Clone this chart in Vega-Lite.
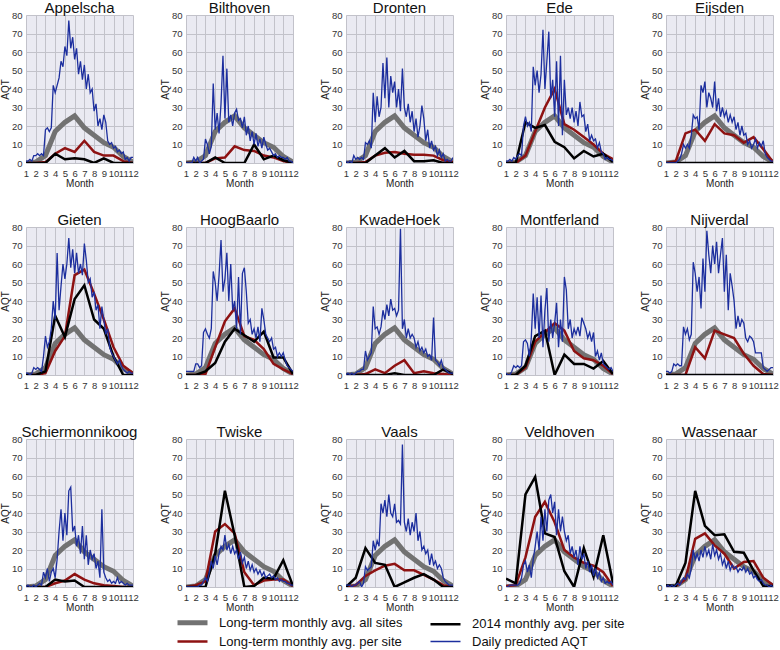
{
"$schema": "https://vega.github.io/schema/vega-lite/v6.json",
"background": "white",
"padding": {"left": 0, "top": 0, "right": 0, "bottom": 0},
"data": {"values": [
{"site":"Appelscha","m":1,"a":0,"r":0,"k":0},{"site":"Appelscha","m":2,"a":0.5,"r":0,"k":0},{"site":"Appelscha","m":3,"a":4,"r":0.5,"k":0},{"site":"Appelscha","m":4,"a":17,"r":5,"k":5},{"site":"Appelscha","m":5,"a":22,"r":8,"k":2},{"site":"Appelscha","m":6,"a":25.5,"r":6,"k":2.5},{"site":"Appelscha","m":7,"a":19,"r":12,"k":2},{"site":"Appelscha","m":8,"a":15,"r":6,"k":0},{"site":"Appelscha","m":9,"a":11,"r":4,"k":2.5},{"site":"Appelscha","m":10,"a":8.5,"r":4,"k":0},{"site":"Appelscha","m":11,"a":3.5,"r":1,"k":0},{"site":"Appelscha","m":12,"a":0.5,"r":0,"k":0},
{"site":"Bilthoven","m":1,"a":0,"r":0,"k":0},{"site":"Bilthoven","m":2,"a":0.5,"r":0,"k":0},{"site":"Bilthoven","m":3,"a":4,"r":0,"k":0},{"site":"Bilthoven","m":4,"a":17,"r":2.5,"k":3},{"site":"Bilthoven","m":5,"a":22,"r":3,"k":0},{"site":"Bilthoven","m":6,"a":25.5,"r":9,"k":0},{"site":"Bilthoven","m":7,"a":19,"r":7,"k":0},{"site":"Bilthoven","m":8,"a":15,"r":6.5,"k":10},{"site":"Bilthoven","m":9,"a":11,"r":4,"k":2},{"site":"Bilthoven","m":10,"a":8.5,"r":3,"k":4},{"site":"Bilthoven","m":11,"a":3.5,"r":1,"k":1.5},{"site":"Bilthoven","m":12,"a":0.5,"r":0,"k":0},
{"site":"Dronten","m":1,"a":0,"r":0,"k":0},{"site":"Dronten","m":2,"a":0.5,"r":0,"k":0},{"site":"Dronten","m":3,"a":4,"r":0.5,"k":0},{"site":"Dronten","m":4,"a":17,"r":4,"k":4},{"site":"Dronten","m":5,"a":22,"r":5.5,"k":8},{"site":"Dronten","m":6,"a":25.5,"r":6,"k":3},{"site":"Dronten","m":7,"a":19,"r":5,"k":6.5},{"site":"Dronten","m":8,"a":15,"r":4.5,"k":1},{"site":"Dronten","m":9,"a":11,"r":4.5,"k":1},{"site":"Dronten","m":10,"a":8.5,"r":4,"k":1.5},{"site":"Dronten","m":11,"a":3.5,"r":1.5,"k":0},{"site":"Dronten","m":12,"a":0.5,"r":0.5,"k":0},
{"site":"Ede","m":1,"a":0,"r":0,"k":0},{"site":"Ede","m":2,"a":0.5,"r":0,"k":0},{"site":"Ede","m":3,"a":4,"r":4,"k":22},{"site":"Ede","m":4,"a":17,"r":17,"k":19},{"site":"Ede","m":5,"a":22,"r":30,"k":20.5},{"site":"Ede","m":6,"a":25.5,"r":40,"k":11.5},{"site":"Ede","m":7,"a":19,"r":21,"k":8.5},{"site":"Ede","m":8,"a":15,"r":18,"k":2.5},{"site":"Ede","m":9,"a":11,"r":14,"k":6.5},{"site":"Ede","m":10,"a":8.5,"r":10,"k":3.5},{"site":"Ede","m":11,"a":3.5,"r":5,"k":5},{"site":"Ede","m":12,"a":0.5,"r":2,"k":0.5},
{"site":"Eijsden","m":1,"a":0,"r":0,"k":0},{"site":"Eijsden","m":2,"a":0.5,"r":1,"k":0},{"site":"Eijsden","m":3,"a":4,"r":16,"k":0},{"site":"Eijsden","m":4,"a":17,"r":18,"k":0},{"site":"Eijsden","m":5,"a":22,"r":12,"k":0},{"site":"Eijsden","m":6,"a":25.5,"r":21,"k":0},{"site":"Eijsden","m":7,"a":19,"r":16,"k":0},{"site":"Eijsden","m":8,"a":15,"r":15,"k":0},{"site":"Eijsden","m":9,"a":11,"r":11,"k":0},{"site":"Eijsden","m":10,"a":8.5,"r":14,"k":0},{"site":"Eijsden","m":11,"a":3.5,"r":7.5,"k":0},{"site":"Eijsden","m":12,"a":0.5,"r":0.5,"k":0},
{"site":"Gieten","m":1,"a":0,"r":0,"k":0},{"site":"Gieten","m":2,"a":0.5,"r":0,"k":0},{"site":"Gieten","m":3,"a":4,"r":1,"k":2},{"site":"Gieten","m":4,"a":17,"r":13,"k":32},{"site":"Gieten","m":5,"a":22,"r":21,"k":20.5},{"site":"Gieten","m":6,"a":25.5,"r":54,"k":41},{"site":"Gieten","m":7,"a":19,"r":57,"k":48.5},{"site":"Gieten","m":8,"a":15,"r":44,"k":30},{"site":"Gieten","m":9,"a":11,"r":30,"k":25},{"site":"Gieten","m":10,"a":8.5,"r":15,"k":10},{"site":"Gieten","m":11,"a":3.5,"r":5,"k":0},{"site":"Gieten","m":12,"a":0.5,"r":1,"k":0},
{"site":"HoogBaarlo","m":1,"a":0,"r":0,"k":0},{"site":"HoogBaarlo","m":2,"a":0.5,"r":0,"k":0},{"site":"HoogBaarlo","m":3,"a":4,"r":0.5,"k":2},{"site":"HoogBaarlo","m":4,"a":17,"r":15,"k":6.5},{"site":"HoogBaarlo","m":5,"a":22,"r":29,"k":18},{"site":"HoogBaarlo","m":6,"a":25.5,"r":36,"k":25},{"site":"HoogBaarlo","m":7,"a":19,"r":21,"k":21.5},{"site":"HoogBaarlo","m":8,"a":15,"r":19,"k":18},{"site":"HoogBaarlo","m":9,"a":11,"r":14,"k":23.5},{"site":"HoogBaarlo","m":10,"a":8.5,"r":6,"k":9.5},{"site":"HoogBaarlo","m":11,"a":3.5,"r":3,"k":9.5},{"site":"HoogBaarlo","m":12,"a":0.5,"r":0.5,"k":0.5},
{"site":"KwadeHoek","m":1,"a":0,"r":0,"k":0},{"site":"KwadeHoek","m":2,"a":0.5,"r":0,"k":0},{"site":"KwadeHoek","m":3,"a":4,"r":0.5,"k":0},{"site":"KwadeHoek","m":4,"a":17,"r":3,"k":0},{"site":"KwadeHoek","m":5,"a":22,"r":1,"k":0},{"site":"KwadeHoek","m":6,"a":25.5,"r":5,"k":1},{"site":"KwadeHoek","m":7,"a":19,"r":8,"k":0},{"site":"KwadeHoek","m":8,"a":15,"r":1,"k":0},{"site":"KwadeHoek","m":9,"a":11,"r":2,"k":0},{"site":"KwadeHoek","m":10,"a":8.5,"r":1,"k":0},{"site":"KwadeHoek","m":11,"a":3.5,"r":0.5,"k":3},{"site":"KwadeHoek","m":12,"a":0.5,"r":0,"k":0.5},
{"site":"Montferland","m":1,"a":0,"r":0,"k":0},{"site":"Montferland","m":2,"a":0.5,"r":0,"k":0},{"site":"Montferland","m":3,"a":4,"r":4,"k":5},{"site":"Montferland","m":4,"a":17,"r":18,"k":21},{"site":"Montferland","m":5,"a":22,"r":23,"k":24},{"site":"Montferland","m":6,"a":25.5,"r":28,"k":0},{"site":"Montferland","m":7,"a":19,"r":24,"k":11},{"site":"Montferland","m":8,"a":15,"r":13,"k":6},{"site":"Montferland","m":9,"a":11,"r":9,"k":6},{"site":"Montferland","m":10,"a":8.5,"r":8,"k":3.5},{"site":"Montferland","m":11,"a":3.5,"r":5,"k":7.5},{"site":"Montferland","m":12,"a":0.5,"r":0.5,"k":0.5},
{"site":"Nijverdal","m":1,"a":0,"r":0,"k":0},{"site":"Nijverdal","m":2,"a":0.5,"r":0,"k":0},{"site":"Nijverdal","m":3,"a":4,"r":0,"k":0},{"site":"Nijverdal","m":4,"a":17,"r":15,"k":0},{"site":"Nijverdal","m":5,"a":22,"r":9,"k":0},{"site":"Nijverdal","m":6,"a":25.5,"r":24,"k":0},{"site":"Nijverdal","m":7,"a":19,"r":22,"k":0},{"site":"Nijverdal","m":8,"a":15,"r":20,"k":0},{"site":"Nijverdal","m":9,"a":11,"r":11.5,"k":0},{"site":"Nijverdal","m":10,"a":8.5,"r":5,"k":0},{"site":"Nijverdal","m":11,"a":3.5,"r":0.5,"k":0},{"site":"Nijverdal","m":12,"a":0.5,"r":0,"k":0},
{"site":"Schiermonnikoog","m":1,"a":0,"r":0,"k":0},{"site":"Schiermonnikoog","m":2,"a":0.5,"r":0,"k":0},{"site":"Schiermonnikoog","m":3,"a":4,"r":0,"k":0},{"site":"Schiermonnikoog","m":4,"a":17,"r":2,"k":4},{"site":"Schiermonnikoog","m":5,"a":22,"r":3.5,"k":3},{"site":"Schiermonnikoog","m":6,"a":25.5,"r":7,"k":3.5},{"site":"Schiermonnikoog","m":7,"a":19,"r":4,"k":0},{"site":"Schiermonnikoog","m":8,"a":15,"r":2,"k":0},{"site":"Schiermonnikoog","m":9,"a":11,"r":1,"k":0},{"site":"Schiermonnikoog","m":10,"a":8.5,"r":0.5,"k":0},{"site":"Schiermonnikoog","m":11,"a":3.5,"r":0,"k":0},{"site":"Schiermonnikoog","m":12,"a":0.5,"r":0,"k":0},
{"site":"Twiske","m":1,"a":0,"r":0,"k":0},{"site":"Twiske","m":2,"a":0.5,"r":1,"k":0},{"site":"Twiske","m":3,"a":4,"r":3,"k":0},{"site":"Twiske","m":4,"a":17,"r":30,"k":18},{"site":"Twiske","m":5,"a":22,"r":34,"k":52},{"site":"Twiske","m":6,"a":25.5,"r":29,"k":28},{"site":"Twiske","m":7,"a":19,"r":8,"k":0},{"site":"Twiske","m":8,"a":15,"r":1,"k":0.5},{"site":"Twiske","m":9,"a":11,"r":3.5,"k":5},{"site":"Twiske","m":10,"a":8.5,"r":4,"k":4.5},{"site":"Twiske","m":11,"a":3.5,"r":4,"k":14.5},{"site":"Twiske","m":12,"a":0.5,"r":0.5,"k":0.5},
{"site":"Vaals","m":1,"a":0,"r":0,"k":0},{"site":"Vaals","m":2,"a":0.5,"r":1,"k":5},{"site":"Vaals","m":3,"a":4,"r":6,"k":21},{"site":"Vaals","m":4,"a":17,"r":9,"k":13},{"site":"Vaals","m":5,"a":22,"r":11.5,"k":12},{"site":"Vaals","m":6,"a":25.5,"r":12.5,"k":0},{"site":"Vaals","m":7,"a":19,"r":9,"k":2.5},{"site":"Vaals","m":8,"a":15,"r":9,"k":5},{"site":"Vaals","m":9,"a":11,"r":6.5,"k":7},{"site":"Vaals","m":10,"a":8.5,"r":4,"k":4},{"site":"Vaals","m":11,"a":3.5,"r":1,"k":0},{"site":"Vaals","m":12,"a":0.5,"r":0,"k":0},
{"site":"Veldhoven","m":1,"a":0,"r":0.5,"k":4.5},{"site":"Veldhoven","m":2,"a":0.5,"r":1,"k":2},{"site":"Veldhoven","m":3,"a":4,"r":16,"k":50},{"site":"Veldhoven","m":4,"a":17,"r":38,"k":59.5},{"site":"Veldhoven","m":5,"a":22,"r":46,"k":29},{"site":"Veldhoven","m":6,"a":25.5,"r":35,"k":27},{"site":"Veldhoven","m":7,"a":19,"r":20,"k":8.5},{"site":"Veldhoven","m":8,"a":15,"r":16,"k":0},{"site":"Veldhoven","m":9,"a":11,"r":13,"k":21},{"site":"Veldhoven","m":10,"a":8.5,"r":11.5,"k":5.5},{"site":"Veldhoven","m":11,"a":3.5,"r":8,"k":28},{"site":"Veldhoven","m":12,"a":0.5,"r":0.5,"k":2},
{"site":"Wassenaar","m":1,"a":0,"r":0,"k":1},{"site":"Wassenaar","m":2,"a":0.5,"r":0.5,"k":0.5},{"site":"Wassenaar","m":3,"a":4,"r":4,"k":13},{"site":"Wassenaar","m":4,"a":17,"r":26,"k":52},{"site":"Wassenaar","m":5,"a":22,"r":29,"k":33},{"site":"Wassenaar","m":6,"a":25.5,"r":22.5,"k":28},{"site":"Wassenaar","m":7,"a":19,"r":18,"k":28.5},{"site":"Wassenaar","m":8,"a":15,"r":10,"k":19},{"site":"Wassenaar","m":9,"a":11,"r":13.5,"k":18.5},{"site":"Wassenaar","m":10,"a":8.5,"r":14,"k":9},{"site":"Wassenaar","m":11,"a":3.5,"r":5,"k":0.5},{"site":"Wassenaar","m":12,"a":0.5,"r":1,"k":0.5},
{"site":"Appelscha","m":1,"d":1},{"site":"Appelscha","m":1.2,"d":1},{"site":"Appelscha","m":1.4,"d":2},{"site":"Appelscha","m":1.6,"d":1},{"site":"Appelscha","m":1.8,"d":4},{"site":"Appelscha","m":2,"d":4},{"site":"Appelscha","m":2.2,"d":5},{"site":"Appelscha","m":2.4,"d":4},{"site":"Appelscha","m":2.6,"d":5},{"site":"Appelscha","m":2.8,"d":4},{"site":"Appelscha","m":3,"d":18},{"site":"Appelscha","m":3.2,"d":19},{"site":"Appelscha","m":3.4,"d":17},{"site":"Appelscha","m":3.6,"d":19},{"site":"Appelscha","m":3.8,"d":42},{"site":"Appelscha","m":4,"d":38},{"site":"Appelscha","m":4.2,"d":42},{"site":"Appelscha","m":4.4,"d":46},{"site":"Appelscha","m":4.6,"d":55},{"site":"Appelscha","m":4.8,"d":52},{"site":"Appelscha","m":5,"d":63},{"site":"Appelscha","m":5.2,"d":58},{"site":"Appelscha","m":5.4,"d":77},{"site":"Appelscha","m":5.6,"d":62},{"site":"Appelscha","m":5.8,"d":68},{"site":"Appelscha","m":6,"d":56},{"site":"Appelscha","m":6.2,"d":62},{"site":"Appelscha","m":6.4,"d":48},{"site":"Appelscha","m":6.6,"d":55},{"site":"Appelscha","m":6.8,"d":45},{"site":"Appelscha","m":7,"d":53},{"site":"Appelscha","m":7.2,"d":40},{"site":"Appelscha","m":7.4,"d":48},{"site":"Appelscha","m":7.6,"d":38},{"site":"Appelscha","m":7.8,"d":40},{"site":"Appelscha","m":8,"d":28},{"site":"Appelscha","m":8.2,"d":32},{"site":"Appelscha","m":8.4,"d":20},{"site":"Appelscha","m":8.6,"d":24},{"site":"Appelscha","m":8.8,"d":18},{"site":"Appelscha","m":9,"d":26},{"site":"Appelscha","m":9.2,"d":22},{"site":"Appelscha","m":9.4,"d":12},{"site":"Appelscha","m":9.6,"d":10},{"site":"Appelscha","m":9.8,"d":11},{"site":"Appelscha","m":10,"d":8},{"site":"Appelscha","m":10.2,"d":9},{"site":"Appelscha","m":10.4,"d":6},{"site":"Appelscha","m":10.6,"d":7},{"site":"Appelscha","m":10.8,"d":5},{"site":"Appelscha","m":11,"d":6},{"site":"Appelscha","m":11.2,"d":2},{"site":"Appelscha","m":11.4,"d":3},{"site":"Appelscha","m":11.6,"d":1},{"site":"Appelscha","m":11.8,"d":3},{"site":"Appelscha","m":12,"d":3},
{"site":"Bilthoven","m":1,"d":0},{"site":"Bilthoven","m":1.2,"d":0},{"site":"Bilthoven","m":1.4,"d":0},{"site":"Bilthoven","m":1.6,"d":0},{"site":"Bilthoven","m":1.8,"d":3},{"site":"Bilthoven","m":2,"d":1},{"site":"Bilthoven","m":2.2,"d":3},{"site":"Bilthoven","m":2.4,"d":0},{"site":"Bilthoven","m":2.6,"d":1},{"site":"Bilthoven","m":2.8,"d":2},{"site":"Bilthoven","m":3,"d":13},{"site":"Bilthoven","m":3.2,"d":10},{"site":"Bilthoven","m":3.4,"d":5},{"site":"Bilthoven","m":3.6,"d":9},{"site":"Bilthoven","m":3.8,"d":43},{"site":"Bilthoven","m":4,"d":18},{"site":"Bilthoven","m":4.2,"d":27},{"site":"Bilthoven","m":4.4,"d":16},{"site":"Bilthoven","m":4.6,"d":32},{"site":"Bilthoven","m":4.8,"d":58},{"site":"Bilthoven","m":5,"d":24},{"site":"Bilthoven","m":5.2,"d":51},{"site":"Bilthoven","m":5.4,"d":22},{"site":"Bilthoven","m":5.6,"d":26},{"site":"Bilthoven","m":5.8,"d":20},{"site":"Bilthoven","m":6,"d":27},{"site":"Bilthoven","m":6.2,"d":29},{"site":"Bilthoven","m":6.4,"d":23},{"site":"Bilthoven","m":6.6,"d":24},{"site":"Bilthoven","m":6.8,"d":19},{"site":"Bilthoven","m":7,"d":25},{"site":"Bilthoven","m":7.2,"d":15},{"site":"Bilthoven","m":7.4,"d":20},{"site":"Bilthoven","m":7.6,"d":12},{"site":"Bilthoven","m":7.8,"d":17},{"site":"Bilthoven","m":8,"d":10},{"site":"Bilthoven","m":8.2,"d":16},{"site":"Bilthoven","m":8.4,"d":9},{"site":"Bilthoven","m":8.6,"d":13},{"site":"Bilthoven","m":8.8,"d":8},{"site":"Bilthoven","m":9,"d":14},{"site":"Bilthoven","m":9.2,"d":10},{"site":"Bilthoven","m":9.4,"d":7},{"site":"Bilthoven","m":9.6,"d":8},{"site":"Bilthoven","m":9.8,"d":6},{"site":"Bilthoven","m":10,"d":4},{"site":"Bilthoven","m":10.2,"d":5},{"site":"Bilthoven","m":10.4,"d":3},{"site":"Bilthoven","m":10.6,"d":4},{"site":"Bilthoven","m":10.8,"d":3},{"site":"Bilthoven","m":11,"d":3},{"site":"Bilthoven","m":11.2,"d":2},{"site":"Bilthoven","m":11.4,"d":3},{"site":"Bilthoven","m":11.6,"d":1},{"site":"Bilthoven","m":11.8,"d":1},{"site":"Bilthoven","m":12,"d":0},
{"site":"Dronten","m":1,"d":1},{"site":"Dronten","m":1.2,"d":0},{"site":"Dronten","m":1.4,"d":1},{"site":"Dronten","m":1.6,"d":0},{"site":"Dronten","m":1.8,"d":4},{"site":"Dronten","m":2,"d":2},{"site":"Dronten","m":2.2,"d":3},{"site":"Dronten","m":2.4,"d":2},{"site":"Dronten","m":2.6,"d":3},{"site":"Dronten","m":2.8,"d":2},{"site":"Dronten","m":3,"d":11},{"site":"Dronten","m":3.2,"d":10},{"site":"Dronten","m":3.4,"d":12},{"site":"Dronten","m":3.6,"d":8},{"site":"Dronten","m":3.8,"d":38},{"site":"Dronten","m":4,"d":22},{"site":"Dronten","m":4.2,"d":36},{"site":"Dronten","m":4.4,"d":25},{"site":"Dronten","m":4.6,"d":30},{"site":"Dronten","m":4.8,"d":54},{"site":"Dronten","m":5,"d":35},{"site":"Dronten","m":5.2,"d":57},{"site":"Dronten","m":5.4,"d":30},{"site":"Dronten","m":5.6,"d":47},{"site":"Dronten","m":5.8,"d":38},{"site":"Dronten","m":6,"d":44},{"site":"Dronten","m":6.2,"d":30},{"site":"Dronten","m":6.4,"d":40},{"site":"Dronten","m":6.6,"d":28},{"site":"Dronten","m":6.8,"d":51},{"site":"Dronten","m":7,"d":30},{"site":"Dronten","m":7.2,"d":25},{"site":"Dronten","m":7.4,"d":32},{"site":"Dronten","m":7.6,"d":22},{"site":"Dronten","m":7.8,"d":28},{"site":"Dronten","m":8,"d":17},{"site":"Dronten","m":8.2,"d":24},{"site":"Dronten","m":8.4,"d":14},{"site":"Dronten","m":8.6,"d":20},{"site":"Dronten","m":8.8,"d":31},{"site":"Dronten","m":9,"d":24},{"site":"Dronten","m":9.2,"d":12},{"site":"Dronten","m":9.4,"d":18},{"site":"Dronten","m":9.6,"d":8},{"site":"Dronten","m":9.8,"d":12},{"site":"Dronten","m":10,"d":7},{"site":"Dronten","m":10.2,"d":9},{"site":"Dronten","m":10.4,"d":4},{"site":"Dronten","m":10.6,"d":7},{"site":"Dronten","m":10.8,"d":3},{"site":"Dronten","m":11,"d":5},{"site":"Dronten","m":11.2,"d":1},{"site":"Dronten","m":11.4,"d":2},{"site":"Dronten","m":11.6,"d":1},{"site":"Dronten","m":11.8,"d":1},{"site":"Dronten","m":12,"d":3},
{"site":"Ede","m":1,"d":1},{"site":"Ede","m":1.2,"d":1},{"site":"Ede","m":1.4,"d":2},{"site":"Ede","m":1.6,"d":1},{"site":"Ede","m":1.8,"d":3},{"site":"Ede","m":2,"d":2},{"site":"Ede","m":2.2,"d":4},{"site":"Ede","m":2.4,"d":5},{"site":"Ede","m":2.6,"d":4},{"site":"Ede","m":2.8,"d":20},{"site":"Ede","m":3,"d":25},{"site":"Ede","m":3.2,"d":20},{"site":"Ede","m":3.4,"d":22},{"site":"Ede","m":3.6,"d":17},{"site":"Ede","m":3.8,"d":52},{"site":"Ede","m":4,"d":42},{"site":"Ede","m":4.2,"d":50},{"site":"Ede","m":4.4,"d":38},{"site":"Ede","m":4.6,"d":48},{"site":"Ede","m":4.8,"d":72},{"site":"Ede","m":5,"d":40},{"site":"Ede","m":5.2,"d":55},{"site":"Ede","m":5.4,"d":71},{"site":"Ede","m":5.6,"d":35},{"site":"Ede","m":5.8,"d":45},{"site":"Ede","m":6,"d":25},{"site":"Ede","m":6.2,"d":55},{"site":"Ede","m":6.4,"d":20},{"site":"Ede","m":6.6,"d":58},{"site":"Ede","m":6.8,"d":15},{"site":"Ede","m":7,"d":45},{"site":"Ede","m":7.2,"d":26},{"site":"Ede","m":7.4,"d":30},{"site":"Ede","m":7.6,"d":24},{"site":"Ede","m":7.8,"d":30},{"site":"Ede","m":8,"d":22},{"site":"Ede","m":8.2,"d":28},{"site":"Ede","m":8.4,"d":20},{"site":"Ede","m":8.6,"d":33},{"site":"Ede","m":8.8,"d":25},{"site":"Ede","m":9,"d":26},{"site":"Ede","m":9.2,"d":17},{"site":"Ede","m":9.4,"d":21},{"site":"Ede","m":9.6,"d":12},{"site":"Ede","m":9.8,"d":15},{"site":"Ede","m":10,"d":12},{"site":"Ede","m":10.2,"d":13},{"site":"Ede","m":10.4,"d":8},{"site":"Ede","m":10.6,"d":11},{"site":"Ede","m":10.8,"d":6},{"site":"Ede","m":11,"d":5},{"site":"Ede","m":11.2,"d":2},{"site":"Ede","m":11.4,"d":3},{"site":"Ede","m":11.6,"d":2},{"site":"Ede","m":11.8,"d":2},{"site":"Ede","m":12,"d":1},
{"site":"Eijsden","m":1,"d":0},{"site":"Eijsden","m":1.2,"d":0},{"site":"Eijsden","m":1.4,"d":0},{"site":"Eijsden","m":1.6,"d":0},{"site":"Eijsden","m":1.8,"d":0},{"site":"Eijsden","m":2,"d":0},{"site":"Eijsden","m":2.2,"d":1},{"site":"Eijsden","m":2.4,"d":2},{"site":"Eijsden","m":2.6,"d":5},{"site":"Eijsden","m":2.8,"d":10},{"site":"Eijsden","m":3,"d":8},{"site":"Eijsden","m":3.2,"d":10},{"site":"Eijsden","m":3.4,"d":8},{"site":"Eijsden","m":3.6,"d":15},{"site":"Eijsden","m":3.8,"d":26},{"site":"Eijsden","m":4,"d":24},{"site":"Eijsden","m":4.2,"d":25},{"site":"Eijsden","m":4.4,"d":18},{"site":"Eijsden","m":4.6,"d":42},{"site":"Eijsden","m":4.8,"d":38},{"site":"Eijsden","m":5,"d":44},{"site":"Eijsden","m":5.2,"d":30},{"site":"Eijsden","m":5.4,"d":38},{"site":"Eijsden","m":5.6,"d":35},{"site":"Eijsden","m":5.8,"d":30},{"site":"Eijsden","m":6,"d":44},{"site":"Eijsden","m":6.2,"d":28},{"site":"Eijsden","m":6.4,"d":35},{"site":"Eijsden","m":6.6,"d":25},{"site":"Eijsden","m":6.8,"d":30},{"site":"Eijsden","m":7,"d":25},{"site":"Eijsden","m":7.2,"d":28},{"site":"Eijsden","m":7.4,"d":22},{"site":"Eijsden","m":7.6,"d":26},{"site":"Eijsden","m":7.8,"d":22},{"site":"Eijsden","m":8,"d":25},{"site":"Eijsden","m":8.2,"d":18},{"site":"Eijsden","m":8.4,"d":22},{"site":"Eijsden","m":8.6,"d":15},{"site":"Eijsden","m":8.8,"d":20},{"site":"Eijsden","m":9,"d":15},{"site":"Eijsden","m":9.2,"d":16},{"site":"Eijsden","m":9.4,"d":10},{"site":"Eijsden","m":9.6,"d":12},{"site":"Eijsden","m":9.8,"d":8},{"site":"Eijsden","m":10,"d":10},{"site":"Eijsden","m":10.2,"d":13},{"site":"Eijsden","m":10.4,"d":8},{"site":"Eijsden","m":10.6,"d":11},{"site":"Eijsden","m":10.8,"d":9},{"site":"Eijsden","m":11,"d":12},{"site":"Eijsden","m":11.2,"d":5},{"site":"Eijsden","m":11.4,"d":3},{"site":"Eijsden","m":11.6,"d":2},{"site":"Eijsden","m":11.8,"d":1},{"site":"Eijsden","m":12,"d":1},
{"site":"Gieten","m":1,"d":1},{"site":"Gieten","m":1.2,"d":1},{"site":"Gieten","m":1.4,"d":0},{"site":"Gieten","m":1.6,"d":1},{"site":"Gieten","m":1.8,"d":4},{"site":"Gieten","m":2,"d":3},{"site":"Gieten","m":2.2,"d":4},{"site":"Gieten","m":2.4,"d":3},{"site":"Gieten","m":2.6,"d":2},{"site":"Gieten","m":2.8,"d":10},{"site":"Gieten","m":3,"d":21},{"site":"Gieten","m":3.2,"d":15},{"site":"Gieten","m":3.4,"d":18},{"site":"Gieten","m":3.6,"d":25},{"site":"Gieten","m":3.8,"d":40},{"site":"Gieten","m":4,"d":30},{"site":"Gieten","m":4.2,"d":66},{"site":"Gieten","m":4.4,"d":35},{"site":"Gieten","m":4.6,"d":48},{"site":"Gieten","m":4.8,"d":60},{"site":"Gieten","m":5,"d":52},{"site":"Gieten","m":5.2,"d":60},{"site":"Gieten","m":5.4,"d":74},{"site":"Gieten","m":5.6,"d":58},{"site":"Gieten","m":5.8,"d":68},{"site":"Gieten","m":6,"d":55},{"site":"Gieten","m":6.2,"d":66},{"site":"Gieten","m":6.4,"d":55},{"site":"Gieten","m":6.6,"d":60},{"site":"Gieten","m":6.8,"d":54},{"site":"Gieten","m":7,"d":71},{"site":"Gieten","m":7.2,"d":62},{"site":"Gieten","m":7.4,"d":50},{"site":"Gieten","m":7.6,"d":52},{"site":"Gieten","m":7.8,"d":42},{"site":"Gieten","m":8,"d":45},{"site":"Gieten","m":8.2,"d":35},{"site":"Gieten","m":8.4,"d":38},{"site":"Gieten","m":8.6,"d":25},{"site":"Gieten","m":8.8,"d":37},{"site":"Gieten","m":9,"d":30},{"site":"Gieten","m":9.2,"d":22},{"site":"Gieten","m":9.4,"d":25},{"site":"Gieten","m":9.6,"d":15},{"site":"Gieten","m":9.8,"d":12},{"site":"Gieten","m":10,"d":10},{"site":"Gieten","m":10.2,"d":8},{"site":"Gieten","m":10.4,"d":6},{"site":"Gieten","m":10.6,"d":8},{"site":"Gieten","m":10.8,"d":5},{"site":"Gieten","m":11,"d":3},{"site":"Gieten","m":11.2,"d":2},{"site":"Gieten","m":11.4,"d":1},{"site":"Gieten","m":11.6,"d":2},{"site":"Gieten","m":11.8,"d":1},{"site":"Gieten","m":12,"d":1},
{"site":"HoogBaarlo","m":1,"d":2},{"site":"HoogBaarlo","m":1.2,"d":2},{"site":"HoogBaarlo","m":1.4,"d":2},{"site":"HoogBaarlo","m":1.6,"d":2},{"site":"HoogBaarlo","m":1.8,"d":2},{"site":"HoogBaarlo","m":2,"d":6},{"site":"HoogBaarlo","m":2.2,"d":6},{"site":"HoogBaarlo","m":2.4,"d":4},{"site":"HoogBaarlo","m":2.6,"d":5},{"site":"HoogBaarlo","m":2.8,"d":23},{"site":"HoogBaarlo","m":3,"d":25},{"site":"HoogBaarlo","m":3.2,"d":22},{"site":"HoogBaarlo","m":3.4,"d":20},{"site":"HoogBaarlo","m":3.6,"d":25},{"site":"HoogBaarlo","m":3.8,"d":56},{"site":"HoogBaarlo","m":4,"d":50},{"site":"HoogBaarlo","m":4.2,"d":40},{"site":"HoogBaarlo","m":4.4,"d":54},{"site":"HoogBaarlo","m":4.6,"d":73},{"site":"HoogBaarlo","m":4.8,"d":45},{"site":"HoogBaarlo","m":5,"d":52},{"site":"HoogBaarlo","m":5.2,"d":66},{"site":"HoogBaarlo","m":5.4,"d":40},{"site":"HoogBaarlo","m":5.6,"d":60},{"site":"HoogBaarlo","m":5.8,"d":35},{"site":"HoogBaarlo","m":6,"d":40},{"site":"HoogBaarlo","m":6.2,"d":25},{"site":"HoogBaarlo","m":6.4,"d":53},{"site":"HoogBaarlo","m":6.6,"d":22},{"site":"HoogBaarlo","m":6.8,"d":55},{"site":"HoogBaarlo","m":7,"d":58},{"site":"HoogBaarlo","m":7.2,"d":45},{"site":"HoogBaarlo","m":7.4,"d":28},{"site":"HoogBaarlo","m":7.6,"d":30},{"site":"HoogBaarlo","m":7.8,"d":22},{"site":"HoogBaarlo","m":8,"d":25},{"site":"HoogBaarlo","m":8.2,"d":20},{"site":"HoogBaarlo","m":8.4,"d":26},{"site":"HoogBaarlo","m":8.6,"d":18},{"site":"HoogBaarlo","m":8.8,"d":36},{"site":"HoogBaarlo","m":9,"d":30},{"site":"HoogBaarlo","m":9.2,"d":22},{"site":"HoogBaarlo","m":9.4,"d":20},{"site":"HoogBaarlo","m":9.6,"d":18},{"site":"HoogBaarlo","m":9.8,"d":20},{"site":"HoogBaarlo","m":10,"d":14},{"site":"HoogBaarlo","m":10.2,"d":15},{"site":"HoogBaarlo","m":10.4,"d":10},{"site":"HoogBaarlo","m":10.6,"d":12},{"site":"HoogBaarlo","m":10.8,"d":10},{"site":"HoogBaarlo","m":11,"d":12},{"site":"HoogBaarlo","m":11.2,"d":8},{"site":"HoogBaarlo","m":11.4,"d":5},{"site":"HoogBaarlo","m":11.6,"d":4},{"site":"HoogBaarlo","m":11.8,"d":3},{"site":"HoogBaarlo","m":12,"d":2},
{"site":"KwadeHoek","m":1,"d":0},{"site":"KwadeHoek","m":1.2,"d":1},{"site":"KwadeHoek","m":1.4,"d":0},{"site":"KwadeHoek","m":1.6,"d":1},{"site":"KwadeHoek","m":1.8,"d":0},{"site":"KwadeHoek","m":2,"d":1},{"site":"KwadeHoek","m":2.2,"d":2},{"site":"KwadeHoek","m":2.4,"d":2},{"site":"KwadeHoek","m":2.6,"d":3},{"site":"KwadeHoek","m":2.8,"d":3},{"site":"KwadeHoek","m":3,"d":13},{"site":"KwadeHoek","m":3.2,"d":8},{"site":"KwadeHoek","m":3.4,"d":10},{"site":"KwadeHoek","m":3.6,"d":12},{"site":"KwadeHoek","m":3.8,"d":37},{"site":"KwadeHoek","m":4,"d":25},{"site":"KwadeHoek","m":4.2,"d":26},{"site":"KwadeHoek","m":4.4,"d":22},{"site":"KwadeHoek","m":4.6,"d":26},{"site":"KwadeHoek","m":4.8,"d":35},{"site":"KwadeHoek","m":5,"d":30},{"site":"KwadeHoek","m":5.2,"d":38},{"site":"KwadeHoek","m":5.4,"d":32},{"site":"KwadeHoek","m":5.6,"d":41},{"site":"KwadeHoek","m":5.8,"d":35},{"site":"KwadeHoek","m":6,"d":36},{"site":"KwadeHoek","m":6.2,"d":32},{"site":"KwadeHoek","m":6.4,"d":35},{"site":"KwadeHoek","m":6.6,"d":79},{"site":"KwadeHoek","m":6.8,"d":25},{"site":"KwadeHoek","m":7,"d":30},{"site":"KwadeHoek","m":7.2,"d":20},{"site":"KwadeHoek","m":7.4,"d":25},{"site":"KwadeHoek","m":7.6,"d":20},{"site":"KwadeHoek","m":7.8,"d":22},{"site":"KwadeHoek","m":8,"d":20},{"site":"KwadeHoek","m":8.2,"d":15},{"site":"KwadeHoek","m":8.4,"d":18},{"site":"KwadeHoek","m":8.6,"d":13},{"site":"KwadeHoek","m":8.8,"d":15},{"site":"KwadeHoek","m":9,"d":12},{"site":"KwadeHoek","m":9.2,"d":14},{"site":"KwadeHoek","m":9.4,"d":10},{"site":"KwadeHoek","m":9.6,"d":11},{"site":"KwadeHoek","m":9.8,"d":8},{"site":"KwadeHoek","m":10,"d":31},{"site":"KwadeHoek","m":10.2,"d":8},{"site":"KwadeHoek","m":10.4,"d":7},{"site":"KwadeHoek","m":10.6,"d":5},{"site":"KwadeHoek","m":10.8,"d":8},{"site":"KwadeHoek","m":11,"d":4},{"site":"KwadeHoek","m":11.2,"d":3},{"site":"KwadeHoek","m":11.4,"d":2},{"site":"KwadeHoek","m":11.6,"d":1},{"site":"KwadeHoek","m":11.8,"d":1},{"site":"KwadeHoek","m":12,"d":1},
{"site":"Montferland","m":1,"d":1},{"site":"Montferland","m":1.2,"d":0},{"site":"Montferland","m":1.4,"d":0},{"site":"Montferland","m":1.6,"d":2},{"site":"Montferland","m":1.8,"d":5},{"site":"Montferland","m":2,"d":4},{"site":"Montferland","m":2.2,"d":5},{"site":"Montferland","m":2.4,"d":4},{"site":"Montferland","m":2.6,"d":5},{"site":"Montferland","m":2.8,"d":18},{"site":"Montferland","m":3,"d":19},{"site":"Montferland","m":3.2,"d":17},{"site":"Montferland","m":3.4,"d":10},{"site":"Montferland","m":3.6,"d":20},{"site":"Montferland","m":3.8,"d":44},{"site":"Montferland","m":4,"d":25},{"site":"Montferland","m":4.2,"d":42},{"site":"Montferland","m":4.4,"d":20},{"site":"Montferland","m":4.6,"d":43},{"site":"Montferland","m":4.8,"d":15},{"site":"Montferland","m":5,"d":35},{"site":"Montferland","m":5.2,"d":47},{"site":"Montferland","m":5.4,"d":18},{"site":"Montferland","m":5.6,"d":30},{"site":"Montferland","m":5.8,"d":20},{"site":"Montferland","m":6,"d":28},{"site":"Montferland","m":6.2,"d":39},{"site":"Montferland","m":6.4,"d":15},{"site":"Montferland","m":6.6,"d":30},{"site":"Montferland","m":6.8,"d":18},{"site":"Montferland","m":7,"d":53},{"site":"Montferland","m":7.2,"d":46},{"site":"Montferland","m":7.4,"d":25},{"site":"Montferland","m":7.6,"d":30},{"site":"Montferland","m":7.8,"d":20},{"site":"Montferland","m":8,"d":25},{"site":"Montferland","m":8.2,"d":22},{"site":"Montferland","m":8.4,"d":26},{"site":"Montferland","m":8.6,"d":21},{"site":"Montferland","m":8.8,"d":31},{"site":"Montferland","m":9,"d":28},{"site":"Montferland","m":9.2,"d":25},{"site":"Montferland","m":9.4,"d":20},{"site":"Montferland","m":9.6,"d":23},{"site":"Montferland","m":9.8,"d":18},{"site":"Montferland","m":10,"d":23},{"site":"Montferland","m":10.2,"d":10},{"site":"Montferland","m":10.4,"d":13},{"site":"Montferland","m":10.6,"d":8},{"site":"Montferland","m":10.8,"d":12},{"site":"Montferland","m":11,"d":6},{"site":"Montferland","m":11.2,"d":5},{"site":"Montferland","m":11.4,"d":4},{"site":"Montferland","m":11.6,"d":3},{"site":"Montferland","m":11.8,"d":4},{"site":"Montferland","m":12,"d":2},
{"site":"Nijverdal","m":1,"d":2},{"site":"Nijverdal","m":1.2,"d":2},{"site":"Nijverdal","m":1.4,"d":1},{"site":"Nijverdal","m":1.6,"d":2},{"site":"Nijverdal","m":1.8,"d":6},{"site":"Nijverdal","m":2,"d":5},{"site":"Nijverdal","m":2.2,"d":6},{"site":"Nijverdal","m":2.4,"d":5},{"site":"Nijverdal","m":2.6,"d":5},{"site":"Nijverdal","m":2.8,"d":26},{"site":"Nijverdal","m":3,"d":22},{"site":"Nijverdal","m":3.2,"d":25},{"site":"Nijverdal","m":3.4,"d":19},{"site":"Nijverdal","m":3.6,"d":22},{"site":"Nijverdal","m":3.8,"d":61},{"site":"Nijverdal","m":4,"d":55},{"site":"Nijverdal","m":4.2,"d":45},{"site":"Nijverdal","m":4.4,"d":53},{"site":"Nijverdal","m":4.6,"d":36},{"site":"Nijverdal","m":4.8,"d":63},{"site":"Nijverdal","m":5,"d":45},{"site":"Nijverdal","m":5.2,"d":78},{"site":"Nijverdal","m":5.4,"d":65},{"site":"Nijverdal","m":5.6,"d":55},{"site":"Nijverdal","m":5.8,"d":70},{"site":"Nijverdal","m":6,"d":60},{"site":"Nijverdal","m":6.2,"d":72},{"site":"Nijverdal","m":6.4,"d":55},{"site":"Nijverdal","m":6.6,"d":65},{"site":"Nijverdal","m":6.8,"d":74},{"site":"Nijverdal","m":7,"d":45},{"site":"Nijverdal","m":7.2,"d":65},{"site":"Nijverdal","m":7.4,"d":35},{"site":"Nijverdal","m":7.6,"d":55},{"site":"Nijverdal","m":7.8,"d":48},{"site":"Nijverdal","m":8,"d":40},{"site":"Nijverdal","m":8.2,"d":25},{"site":"Nijverdal","m":8.4,"d":32},{"site":"Nijverdal","m":8.6,"d":26},{"site":"Nijverdal","m":8.8,"d":30},{"site":"Nijverdal","m":9,"d":28},{"site":"Nijverdal","m":9.2,"d":20},{"site":"Nijverdal","m":9.4,"d":18},{"site":"Nijverdal","m":9.6,"d":21},{"site":"Nijverdal","m":9.8,"d":20},{"site":"Nijverdal","m":10,"d":18},{"site":"Nijverdal","m":10.2,"d":12},{"site":"Nijverdal","m":10.4,"d":12},{"site":"Nijverdal","m":10.6,"d":12},{"site":"Nijverdal","m":10.8,"d":12},{"site":"Nijverdal","m":11,"d":4},{"site":"Nijverdal","m":11.2,"d":3},{"site":"Nijverdal","m":11.4,"d":2},{"site":"Nijverdal","m":11.6,"d":3},{"site":"Nijverdal","m":11.8,"d":4},{"site":"Nijverdal","m":12,"d":4},
{"site":"Schiermonnikoog","m":1,"d":0},{"site":"Schiermonnikoog","m":1.2,"d":1},{"site":"Schiermonnikoog","m":1.4,"d":0},{"site":"Schiermonnikoog","m":1.6,"d":0},{"site":"Schiermonnikoog","m":1.8,"d":1},{"site":"Schiermonnikoog","m":2,"d":0},{"site":"Schiermonnikoog","m":2.2,"d":1},{"site":"Schiermonnikoog","m":2.4,"d":2},{"site":"Schiermonnikoog","m":2.6,"d":1},{"site":"Schiermonnikoog","m":2.8,"d":8},{"site":"Schiermonnikoog","m":3,"d":5},{"site":"Schiermonnikoog","m":3.2,"d":10},{"site":"Schiermonnikoog","m":3.4,"d":3},{"site":"Schiermonnikoog","m":3.6,"d":8},{"site":"Schiermonnikoog","m":3.8,"d":10},{"site":"Schiermonnikoog","m":4,"d":5},{"site":"Schiermonnikoog","m":4.2,"d":15},{"site":"Schiermonnikoog","m":4.4,"d":30},{"site":"Schiermonnikoog","m":4.6,"d":42},{"site":"Schiermonnikoog","m":4.8,"d":25},{"site":"Schiermonnikoog","m":5,"d":40},{"site":"Schiermonnikoog","m":5.2,"d":28},{"site":"Schiermonnikoog","m":5.4,"d":52},{"site":"Schiermonnikoog","m":5.6,"d":54},{"site":"Schiermonnikoog","m":5.8,"d":30},{"site":"Schiermonnikoog","m":6,"d":33},{"site":"Schiermonnikoog","m":6.2,"d":22},{"site":"Schiermonnikoog","m":6.4,"d":28},{"site":"Schiermonnikoog","m":6.6,"d":18},{"site":"Schiermonnikoog","m":6.8,"d":33},{"site":"Schiermonnikoog","m":7,"d":15},{"site":"Schiermonnikoog","m":7.2,"d":28},{"site":"Schiermonnikoog","m":7.4,"d":12},{"site":"Schiermonnikoog","m":7.6,"d":20},{"site":"Schiermonnikoog","m":7.8,"d":15},{"site":"Schiermonnikoog","m":8,"d":18},{"site":"Schiermonnikoog","m":8.2,"d":10},{"site":"Schiermonnikoog","m":8.4,"d":14},{"site":"Schiermonnikoog","m":8.6,"d":5},{"site":"Schiermonnikoog","m":8.8,"d":42},{"site":"Schiermonnikoog","m":9,"d":8},{"site":"Schiermonnikoog","m":9.2,"d":5},{"site":"Schiermonnikoog","m":9.4,"d":3},{"site":"Schiermonnikoog","m":9.6,"d":4},{"site":"Schiermonnikoog","m":9.8,"d":2},{"site":"Schiermonnikoog","m":10,"d":3},{"site":"Schiermonnikoog","m":10.2,"d":2},{"site":"Schiermonnikoog","m":10.4,"d":5},{"site":"Schiermonnikoog","m":10.6,"d":2},{"site":"Schiermonnikoog","m":10.8,"d":3},{"site":"Schiermonnikoog","m":11,"d":2},{"site":"Schiermonnikoog","m":11.2,"d":1},{"site":"Schiermonnikoog","m":11.4,"d":2},{"site":"Schiermonnikoog","m":11.6,"d":1},{"site":"Schiermonnikoog","m":11.8,"d":1},{"site":"Schiermonnikoog","m":12,"d":1},
{"site":"Twiske","m":1,"d":0},{"site":"Twiske","m":1.2,"d":0},{"site":"Twiske","m":1.4,"d":0},{"site":"Twiske","m":1.6,"d":0},{"site":"Twiske","m":1.8,"d":0},{"site":"Twiske","m":2,"d":0},{"site":"Twiske","m":2.2,"d":0},{"site":"Twiske","m":2.4,"d":1},{"site":"Twiske","m":2.6,"d":1},{"site":"Twiske","m":2.8,"d":3},{"site":"Twiske","m":3,"d":5},{"site":"Twiske","m":3.2,"d":3},{"site":"Twiske","m":3.4,"d":8},{"site":"Twiske","m":3.6,"d":14},{"site":"Twiske","m":3.8,"d":10},{"site":"Twiske","m":4,"d":17},{"site":"Twiske","m":4.2,"d":12},{"site":"Twiske","m":4.4,"d":18},{"site":"Twiske","m":4.6,"d":22},{"site":"Twiske","m":4.8,"d":20},{"site":"Twiske","m":5,"d":28},{"site":"Twiske","m":5.2,"d":20},{"site":"Twiske","m":5.4,"d":23},{"site":"Twiske","m":5.6,"d":18},{"site":"Twiske","m":5.8,"d":22},{"site":"Twiske","m":6,"d":18},{"site":"Twiske","m":6.2,"d":20},{"site":"Twiske","m":6.4,"d":15},{"site":"Twiske","m":6.6,"d":19},{"site":"Twiske","m":6.8,"d":13},{"site":"Twiske","m":7,"d":16},{"site":"Twiske","m":7.2,"d":10},{"site":"Twiske","m":7.4,"d":14},{"site":"Twiske","m":7.6,"d":9},{"site":"Twiske","m":7.8,"d":12},{"site":"Twiske","m":8,"d":8},{"site":"Twiske","m":8.2,"d":10},{"site":"Twiske","m":8.4,"d":7},{"site":"Twiske","m":8.6,"d":9},{"site":"Twiske","m":8.8,"d":6},{"site":"Twiske","m":9,"d":8},{"site":"Twiske","m":9.2,"d":5},{"site":"Twiske","m":9.4,"d":6},{"site":"Twiske","m":9.6,"d":7},{"site":"Twiske","m":9.8,"d":5},{"site":"Twiske","m":10,"d":6},{"site":"Twiske","m":10.2,"d":4},{"site":"Twiske","m":10.4,"d":5},{"site":"Twiske","m":10.6,"d":3},{"site":"Twiske","m":10.8,"d":4},{"site":"Twiske","m":11,"d":3},{"site":"Twiske","m":11.2,"d":3},{"site":"Twiske","m":11.4,"d":2},{"site":"Twiske","m":11.6,"d":2},{"site":"Twiske","m":11.8,"d":1},{"site":"Twiske","m":12,"d":1},
{"site":"Vaals","m":1,"d":1},{"site":"Vaals","m":1.2,"d":1},{"site":"Vaals","m":1.4,"d":1},{"site":"Vaals","m":1.6,"d":0},{"site":"Vaals","m":1.8,"d":1},{"site":"Vaals","m":2,"d":1},{"site":"Vaals","m":2.2,"d":2},{"site":"Vaals","m":2.4,"d":3},{"site":"Vaals","m":2.6,"d":0},{"site":"Vaals","m":2.8,"d":2},{"site":"Vaals","m":3,"d":11},{"site":"Vaals","m":3.2,"d":9},{"site":"Vaals","m":3.4,"d":10},{"site":"Vaals","m":3.6,"d":11},{"site":"Vaals","m":3.8,"d":25},{"site":"Vaals","m":4,"d":20},{"site":"Vaals","m":4.2,"d":25},{"site":"Vaals","m":4.4,"d":22},{"site":"Vaals","m":4.6,"d":45},{"site":"Vaals","m":4.8,"d":40},{"site":"Vaals","m":5,"d":47},{"site":"Vaals","m":5.2,"d":38},{"site":"Vaals","m":5.4,"d":50},{"site":"Vaals","m":5.6,"d":40},{"site":"Vaals","m":5.8,"d":38},{"site":"Vaals","m":6,"d":45},{"site":"Vaals","m":6.2,"d":35},{"site":"Vaals","m":6.4,"d":36},{"site":"Vaals","m":6.6,"d":34},{"site":"Vaals","m":6.8,"d":77},{"site":"Vaals","m":7,"d":35},{"site":"Vaals","m":7.2,"d":30},{"site":"Vaals","m":7.4,"d":37},{"site":"Vaals","m":7.6,"d":28},{"site":"Vaals","m":7.8,"d":35},{"site":"Vaals","m":8,"d":30},{"site":"Vaals","m":8.2,"d":40},{"site":"Vaals","m":8.4,"d":25},{"site":"Vaals","m":8.6,"d":30},{"site":"Vaals","m":8.8,"d":20},{"site":"Vaals","m":9,"d":22},{"site":"Vaals","m":9.2,"d":18},{"site":"Vaals","m":9.4,"d":20},{"site":"Vaals","m":9.6,"d":12},{"site":"Vaals","m":9.8,"d":18},{"site":"Vaals","m":10,"d":12},{"site":"Vaals","m":10.2,"d":14},{"site":"Vaals","m":10.4,"d":10},{"site":"Vaals","m":10.6,"d":12},{"site":"Vaals","m":10.8,"d":10},{"site":"Vaals","m":11,"d":5},{"site":"Vaals","m":11.2,"d":3},{"site":"Vaals","m":11.4,"d":2},{"site":"Vaals","m":11.6,"d":1},{"site":"Vaals","m":11.8,"d":1},{"site":"Vaals","m":12,"d":1},
{"site":"Veldhoven","m":1,"d":0},{"site":"Veldhoven","m":1.2,"d":0},{"site":"Veldhoven","m":1.4,"d":1},{"site":"Veldhoven","m":1.6,"d":1},{"site":"Veldhoven","m":1.8,"d":1},{"site":"Veldhoven","m":2,"d":1},{"site":"Veldhoven","m":2.2,"d":1},{"site":"Veldhoven","m":2.4,"d":2},{"site":"Veldhoven","m":2.6,"d":5},{"site":"Veldhoven","m":2.8,"d":12},{"site":"Veldhoven","m":3,"d":14},{"site":"Veldhoven","m":3.2,"d":8},{"site":"Veldhoven","m":3.4,"d":12},{"site":"Veldhoven","m":3.6,"d":5},{"site":"Veldhoven","m":3.8,"d":15},{"site":"Veldhoven","m":4,"d":22},{"site":"Veldhoven","m":4.2,"d":30},{"site":"Veldhoven","m":4.4,"d":20},{"site":"Veldhoven","m":4.6,"d":38},{"site":"Veldhoven","m":4.8,"d":25},{"site":"Veldhoven","m":5,"d":42},{"site":"Veldhoven","m":5.2,"d":30},{"site":"Veldhoven","m":5.4,"d":47},{"site":"Veldhoven","m":5.6,"d":50},{"site":"Veldhoven","m":5.8,"d":40},{"site":"Veldhoven","m":6,"d":46},{"site":"Veldhoven","m":6.2,"d":28},{"site":"Veldhoven","m":6.4,"d":42},{"site":"Veldhoven","m":6.6,"d":30},{"site":"Veldhoven","m":6.8,"d":38},{"site":"Veldhoven","m":7,"d":30},{"site":"Veldhoven","m":7.2,"d":25},{"site":"Veldhoven","m":7.4,"d":28},{"site":"Veldhoven","m":7.6,"d":18},{"site":"Veldhoven","m":7.8,"d":22},{"site":"Veldhoven","m":8,"d":16},{"site":"Veldhoven","m":8.2,"d":20},{"site":"Veldhoven","m":8.4,"d":12},{"site":"Veldhoven","m":8.6,"d":22},{"site":"Veldhoven","m":8.8,"d":15},{"site":"Veldhoven","m":9,"d":18},{"site":"Veldhoven","m":9.2,"d":10},{"site":"Veldhoven","m":9.4,"d":14},{"site":"Veldhoven","m":9.6,"d":8},{"site":"Veldhoven","m":9.8,"d":12},{"site":"Veldhoven","m":10,"d":6},{"site":"Veldhoven","m":10.2,"d":10},{"site":"Veldhoven","m":10.4,"d":5},{"site":"Veldhoven","m":10.6,"d":8},{"site":"Veldhoven","m":10.8,"d":3},{"site":"Veldhoven","m":11,"d":5},{"site":"Veldhoven","m":11.2,"d":2},{"site":"Veldhoven","m":11.4,"d":3},{"site":"Veldhoven","m":11.6,"d":2},{"site":"Veldhoven","m":11.8,"d":3},{"site":"Veldhoven","m":12,"d":1},
{"site":"Wassenaar","m":1,"d":0},{"site":"Wassenaar","m":1.2,"d":1},{"site":"Wassenaar","m":1.4,"d":0},{"site":"Wassenaar","m":1.6,"d":1},{"site":"Wassenaar","m":1.8,"d":0},{"site":"Wassenaar","m":2,"d":1},{"site":"Wassenaar","m":2.2,"d":2},{"site":"Wassenaar","m":2.4,"d":1},{"site":"Wassenaar","m":2.6,"d":3},{"site":"Wassenaar","m":2.8,"d":5},{"site":"Wassenaar","m":3,"d":4},{"site":"Wassenaar","m":3.2,"d":7},{"site":"Wassenaar","m":3.4,"d":5},{"site":"Wassenaar","m":3.6,"d":10},{"site":"Wassenaar","m":3.8,"d":20},{"site":"Wassenaar","m":4,"d":15},{"site":"Wassenaar","m":4.2,"d":18},{"site":"Wassenaar","m":4.4,"d":14},{"site":"Wassenaar","m":4.6,"d":20},{"site":"Wassenaar","m":4.8,"d":16},{"site":"Wassenaar","m":5,"d":22},{"site":"Wassenaar","m":5.2,"d":17},{"site":"Wassenaar","m":5.4,"d":20},{"site":"Wassenaar","m":5.6,"d":15},{"site":"Wassenaar","m":5.8,"d":23},{"site":"Wassenaar","m":6,"d":17},{"site":"Wassenaar","m":6.2,"d":20},{"site":"Wassenaar","m":6.4,"d":15},{"site":"Wassenaar","m":6.6,"d":18},{"site":"Wassenaar","m":6.8,"d":12},{"site":"Wassenaar","m":7,"d":15},{"site":"Wassenaar","m":7.2,"d":10},{"site":"Wassenaar","m":7.4,"d":14},{"site":"Wassenaar","m":7.6,"d":9},{"site":"Wassenaar","m":7.8,"d":12},{"site":"Wassenaar","m":8,"d":10},{"site":"Wassenaar","m":8.2,"d":11},{"site":"Wassenaar","m":8.4,"d":8},{"site":"Wassenaar","m":8.6,"d":10},{"site":"Wassenaar","m":8.8,"d":9},{"site":"Wassenaar","m":9,"d":11},{"site":"Wassenaar","m":9.2,"d":8},{"site":"Wassenaar","m":9.4,"d":10},{"site":"Wassenaar","m":9.6,"d":7},{"site":"Wassenaar","m":9.8,"d":8},{"site":"Wassenaar","m":10,"d":5},{"site":"Wassenaar","m":10.2,"d":6},{"site":"Wassenaar","m":10.4,"d":4},{"site":"Wassenaar","m":10.6,"d":3},{"site":"Wassenaar","m":10.8,"d":4},{"site":"Wassenaar","m":11,"d":2},{"site":"Wassenaar","m":11.2,"d":1},{"site":"Wassenaar","m":11.4,"d":1},{"site":"Wassenaar","m":11.6,"d":0},{"site":"Wassenaar","m":11.8,"d":1},{"site":"Wassenaar","m":12,"d":0}
]},
"transform": [{"fold": ["a", "r", "k", "d"], "as": ["series", "value"]}, {"filter": "isValid(datum.value)"}],
"columns": 5,
"spacing": {"row": 64, "column": 53},
"bounds": "flush",
"resolve": {"scale": {"color": "shared"}, "legend": {"color": "shared"}},
"concat": [
{"transform":[{"filter":"datum.site==='Appelscha'"}],"title":"Appelscha","width":107,"height":148,"encoding":{"x":{"field":"m","type":"quantitative","scale":{"domain":[1,12],"nice":false,"zero":false},"axis":{"values":[1,2,3,4,5,6,7,8,9,10,11,12],"title":"Month"}},"y":{"field":"value","type":"quantitative","scale":{"domain":[0,80],"nice":false},"axis":{"values":[0,10,20,30,40,50,60,70,80],"title":"AQT"}},"color":{"field":"series","type":"nominal","scale":{"domain":["a","r","k","d"],"range":["#727272","#8e1212","#000000","#1c2e9e"]},"legend":{"title":null,"labelExpr":"datum.label === 'a' ? 'Long-term monthly avg. all sites' : datum.label === 'k' ? '2014 monthly avg. per site' : datum.label === 'r' ? 'Long-term monthly avg. per site' : 'Daily predicted AQT'","encode":{"symbols":{"update":{"strokeWidth":{"signal":"datum.value === 'a' ? 5 : datum.value === 'd' ? 1.5 : 2.5"}}}}}}},"layer":[{"transform":[{"filter":"datum.series==='a'"}],"mark":{"type":"line","strokeWidth":5,"clip":true},"encoding":{}},{"transform":[{"filter":"datum.series==='r'"}],"mark":{"type":"line","strokeWidth":2.5,"clip":true},"encoding":{}},{"transform":[{"filter":"datum.series==='k'"}],"mark":{"type":"line","strokeWidth":2.5,"clip":true},"encoding":{}},{"transform":[{"filter":"datum.series==='d'"}],"mark":{"type":"line","strokeWidth":1.3,"clip":true},"encoding":{}}]},
{"transform":[{"filter":"datum.site==='Bilthoven'"}],"title":"Bilthoven","width":107,"height":148,"encoding":{"x":{"field":"m","type":"quantitative","scale":{"domain":[1,12],"nice":false,"zero":false},"axis":{"values":[1,2,3,4,5,6,7,8,9,10,11,12],"title":"Month"}},"y":{"field":"value","type":"quantitative","scale":{"domain":[0,80],"nice":false},"axis":{"values":[0,10,20,30,40,50,60,70,80],"title":"AQT"}},"color":{"field":"series","type":"nominal","scale":{"domain":["a","r","k","d"],"range":["#727272","#8e1212","#000000","#1c2e9e"]},"legend":{"title":null,"labelExpr":"datum.label === 'a' ? 'Long-term monthly avg. all sites' : datum.label === 'k' ? '2014 monthly avg. per site' : datum.label === 'r' ? 'Long-term monthly avg. per site' : 'Daily predicted AQT'","encode":{"symbols":{"update":{"strokeWidth":{"signal":"datum.value === 'a' ? 5 : datum.value === 'd' ? 1.5 : 2.5"}}}}}}},"layer":[{"transform":[{"filter":"datum.series==='a'"}],"mark":{"type":"line","strokeWidth":5,"clip":true},"encoding":{}},{"transform":[{"filter":"datum.series==='r'"}],"mark":{"type":"line","strokeWidth":2.5,"clip":true},"encoding":{}},{"transform":[{"filter":"datum.series==='k'"}],"mark":{"type":"line","strokeWidth":2.5,"clip":true},"encoding":{}},{"transform":[{"filter":"datum.series==='d'"}],"mark":{"type":"line","strokeWidth":1.3,"clip":true},"encoding":{}}]},
{"transform":[{"filter":"datum.site==='Dronten'"}],"title":"Dronten","width":107,"height":148,"encoding":{"x":{"field":"m","type":"quantitative","scale":{"domain":[1,12],"nice":false,"zero":false},"axis":{"values":[1,2,3,4,5,6,7,8,9,10,11,12],"title":"Month"}},"y":{"field":"value","type":"quantitative","scale":{"domain":[0,80],"nice":false},"axis":{"values":[0,10,20,30,40,50,60,70,80],"title":"AQT"}},"color":{"field":"series","type":"nominal","scale":{"domain":["a","r","k","d"],"range":["#727272","#8e1212","#000000","#1c2e9e"]},"legend":{"title":null,"labelExpr":"datum.label === 'a' ? 'Long-term monthly avg. all sites' : datum.label === 'k' ? '2014 monthly avg. per site' : datum.label === 'r' ? 'Long-term monthly avg. per site' : 'Daily predicted AQT'","encode":{"symbols":{"update":{"strokeWidth":{"signal":"datum.value === 'a' ? 5 : datum.value === 'd' ? 1.5 : 2.5"}}}}}}},"layer":[{"transform":[{"filter":"datum.series==='a'"}],"mark":{"type":"line","strokeWidth":5,"clip":true},"encoding":{}},{"transform":[{"filter":"datum.series==='r'"}],"mark":{"type":"line","strokeWidth":2.5,"clip":true},"encoding":{}},{"transform":[{"filter":"datum.series==='k'"}],"mark":{"type":"line","strokeWidth":2.5,"clip":true},"encoding":{}},{"transform":[{"filter":"datum.series==='d'"}],"mark":{"type":"line","strokeWidth":1.3,"clip":true},"encoding":{}}]},
{"transform":[{"filter":"datum.site==='Ede'"}],"title":"Ede","width":107,"height":148,"encoding":{"x":{"field":"m","type":"quantitative","scale":{"domain":[1,12],"nice":false,"zero":false},"axis":{"values":[1,2,3,4,5,6,7,8,9,10,11,12],"title":"Month"}},"y":{"field":"value","type":"quantitative","scale":{"domain":[0,80],"nice":false},"axis":{"values":[0,10,20,30,40,50,60,70,80],"title":"AQT"}},"color":{"field":"series","type":"nominal","scale":{"domain":["a","r","k","d"],"range":["#727272","#8e1212","#000000","#1c2e9e"]},"legend":{"title":null,"labelExpr":"datum.label === 'a' ? 'Long-term monthly avg. all sites' : datum.label === 'k' ? '2014 monthly avg. per site' : datum.label === 'r' ? 'Long-term monthly avg. per site' : 'Daily predicted AQT'","encode":{"symbols":{"update":{"strokeWidth":{"signal":"datum.value === 'a' ? 5 : datum.value === 'd' ? 1.5 : 2.5"}}}}}}},"layer":[{"transform":[{"filter":"datum.series==='a'"}],"mark":{"type":"line","strokeWidth":5,"clip":true},"encoding":{}},{"transform":[{"filter":"datum.series==='r'"}],"mark":{"type":"line","strokeWidth":2.5,"clip":true},"encoding":{}},{"transform":[{"filter":"datum.series==='k'"}],"mark":{"type":"line","strokeWidth":2.5,"clip":true},"encoding":{}},{"transform":[{"filter":"datum.series==='d'"}],"mark":{"type":"line","strokeWidth":1.3,"clip":true},"encoding":{}}]},
{"transform":[{"filter":"datum.site==='Eijsden'"}],"title":"Eijsden","width":107,"height":148,"encoding":{"x":{"field":"m","type":"quantitative","scale":{"domain":[1,12],"nice":false,"zero":false},"axis":{"values":[1,2,3,4,5,6,7,8,9,10,11,12],"title":"Month"}},"y":{"field":"value","type":"quantitative","scale":{"domain":[0,80],"nice":false},"axis":{"values":[0,10,20,30,40,50,60,70,80],"title":"AQT"}},"color":{"field":"series","type":"nominal","scale":{"domain":["a","r","k","d"],"range":["#727272","#8e1212","#000000","#1c2e9e"]},"legend":{"title":null,"labelExpr":"datum.label === 'a' ? 'Long-term monthly avg. all sites' : datum.label === 'k' ? '2014 monthly avg. per site' : datum.label === 'r' ? 'Long-term monthly avg. per site' : 'Daily predicted AQT'","encode":{"symbols":{"update":{"strokeWidth":{"signal":"datum.value === 'a' ? 5 : datum.value === 'd' ? 1.5 : 2.5"}}}}}}},"layer":[{"transform":[{"filter":"datum.series==='a'"}],"mark":{"type":"line","strokeWidth":5,"clip":true},"encoding":{}},{"transform":[{"filter":"datum.series==='r'"}],"mark":{"type":"line","strokeWidth":2.5,"clip":true},"encoding":{}},{"transform":[{"filter":"datum.series==='k'"}],"mark":{"type":"line","strokeWidth":2.5,"clip":true},"encoding":{}},{"transform":[{"filter":"datum.series==='d'"}],"mark":{"type":"line","strokeWidth":1.3,"clip":true},"encoding":{}}]},
{"transform":[{"filter":"datum.site==='Gieten'"}],"title":"Gieten","width":107,"height":148,"encoding":{"x":{"field":"m","type":"quantitative","scale":{"domain":[1,12],"nice":false,"zero":false},"axis":{"values":[1,2,3,4,5,6,7,8,9,10,11,12],"title":null}},"y":{"field":"value","type":"quantitative","scale":{"domain":[0,80],"nice":false},"axis":{"values":[0,10,20,30,40,50,60,70,80],"title":"AQT"}},"color":{"field":"series","type":"nominal","scale":{"domain":["a","r","k","d"],"range":["#727272","#8e1212","#000000","#1c2e9e"]},"legend":{"title":null,"labelExpr":"datum.label === 'a' ? 'Long-term monthly avg. all sites' : datum.label === 'k' ? '2014 monthly avg. per site' : datum.label === 'r' ? 'Long-term monthly avg. per site' : 'Daily predicted AQT'","encode":{"symbols":{"update":{"strokeWidth":{"signal":"datum.value === 'a' ? 5 : datum.value === 'd' ? 1.5 : 2.5"}}}}}}},"layer":[{"transform":[{"filter":"datum.series==='a'"}],"mark":{"type":"line","strokeWidth":5,"clip":true},"encoding":{}},{"transform":[{"filter":"datum.series==='r'"}],"mark":{"type":"line","strokeWidth":2.5,"clip":true},"encoding":{}},{"transform":[{"filter":"datum.series==='k'"}],"mark":{"type":"line","strokeWidth":2.5,"clip":true},"encoding":{}},{"transform":[{"filter":"datum.series==='d'"}],"mark":{"type":"line","strokeWidth":1.3,"clip":true},"encoding":{}}]},
{"transform":[{"filter":"datum.site==='HoogBaarlo'"}],"title":"HoogBaarlo","width":107,"height":148,"encoding":{"x":{"field":"m","type":"quantitative","scale":{"domain":[1,12],"nice":false,"zero":false},"axis":{"values":[1,2,3,4,5,6,7,8,9,10,11,12],"title":null}},"y":{"field":"value","type":"quantitative","scale":{"domain":[0,80],"nice":false},"axis":{"values":[0,10,20,30,40,50,60,70,80],"title":"AQT"}},"color":{"field":"series","type":"nominal","scale":{"domain":["a","r","k","d"],"range":["#727272","#8e1212","#000000","#1c2e9e"]},"legend":{"title":null,"labelExpr":"datum.label === 'a' ? 'Long-term monthly avg. all sites' : datum.label === 'k' ? '2014 monthly avg. per site' : datum.label === 'r' ? 'Long-term monthly avg. per site' : 'Daily predicted AQT'","encode":{"symbols":{"update":{"strokeWidth":{"signal":"datum.value === 'a' ? 5 : datum.value === 'd' ? 1.5 : 2.5"}}}}}}},"layer":[{"transform":[{"filter":"datum.series==='a'"}],"mark":{"type":"line","strokeWidth":5,"clip":true},"encoding":{}},{"transform":[{"filter":"datum.series==='r'"}],"mark":{"type":"line","strokeWidth":2.5,"clip":true},"encoding":{}},{"transform":[{"filter":"datum.series==='k'"}],"mark":{"type":"line","strokeWidth":2.5,"clip":true},"encoding":{}},{"transform":[{"filter":"datum.series==='d'"}],"mark":{"type":"line","strokeWidth":1.3,"clip":true},"encoding":{}}]},
{"transform":[{"filter":"datum.site==='KwadeHoek'"}],"title":"KwadeHoek","width":107,"height":148,"encoding":{"x":{"field":"m","type":"quantitative","scale":{"domain":[1,12],"nice":false,"zero":false},"axis":{"values":[1,2,3,4,5,6,7,8,9,10,11,12],"title":null}},"y":{"field":"value","type":"quantitative","scale":{"domain":[0,80],"nice":false},"axis":{"values":[0,10,20,30,40,50,60,70,80],"title":"AQT"}},"color":{"field":"series","type":"nominal","scale":{"domain":["a","r","k","d"],"range":["#727272","#8e1212","#000000","#1c2e9e"]},"legend":{"title":null,"labelExpr":"datum.label === 'a' ? 'Long-term monthly avg. all sites' : datum.label === 'k' ? '2014 monthly avg. per site' : datum.label === 'r' ? 'Long-term monthly avg. per site' : 'Daily predicted AQT'","encode":{"symbols":{"update":{"strokeWidth":{"signal":"datum.value === 'a' ? 5 : datum.value === 'd' ? 1.5 : 2.5"}}}}}}},"layer":[{"transform":[{"filter":"datum.series==='a'"}],"mark":{"type":"line","strokeWidth":5,"clip":true},"encoding":{}},{"transform":[{"filter":"datum.series==='r'"}],"mark":{"type":"line","strokeWidth":2.5,"clip":true},"encoding":{}},{"transform":[{"filter":"datum.series==='k'"}],"mark":{"type":"line","strokeWidth":2.5,"clip":true},"encoding":{}},{"transform":[{"filter":"datum.series==='d'"}],"mark":{"type":"line","strokeWidth":1.3,"clip":true},"encoding":{}}]},
{"transform":[{"filter":"datum.site==='Montferland'"}],"title":"Montferland","width":107,"height":148,"encoding":{"x":{"field":"m","type":"quantitative","scale":{"domain":[1,12],"nice":false,"zero":false},"axis":{"values":[1,2,3,4,5,6,7,8,9,10,11,12],"title":null}},"y":{"field":"value","type":"quantitative","scale":{"domain":[0,80],"nice":false},"axis":{"values":[0,10,20,30,40,50,60,70,80],"title":"AQT"}},"color":{"field":"series","type":"nominal","scale":{"domain":["a","r","k","d"],"range":["#727272","#8e1212","#000000","#1c2e9e"]},"legend":{"title":null,"labelExpr":"datum.label === 'a' ? 'Long-term monthly avg. all sites' : datum.label === 'k' ? '2014 monthly avg. per site' : datum.label === 'r' ? 'Long-term monthly avg. per site' : 'Daily predicted AQT'","encode":{"symbols":{"update":{"strokeWidth":{"signal":"datum.value === 'a' ? 5 : datum.value === 'd' ? 1.5 : 2.5"}}}}}}},"layer":[{"transform":[{"filter":"datum.series==='a'"}],"mark":{"type":"line","strokeWidth":5,"clip":true},"encoding":{}},{"transform":[{"filter":"datum.series==='r'"}],"mark":{"type":"line","strokeWidth":2.5,"clip":true},"encoding":{}},{"transform":[{"filter":"datum.series==='k'"}],"mark":{"type":"line","strokeWidth":2.5,"clip":true},"encoding":{}},{"transform":[{"filter":"datum.series==='d'"}],"mark":{"type":"line","strokeWidth":1.3,"clip":true},"encoding":{}}]},
{"transform":[{"filter":"datum.site==='Nijverdal'"}],"title":"Nijverdal","width":107,"height":148,"encoding":{"x":{"field":"m","type":"quantitative","scale":{"domain":[1,12],"nice":false,"zero":false},"axis":{"values":[1,2,3,4,5,6,7,8,9,10,11,12],"title":null}},"y":{"field":"value","type":"quantitative","scale":{"domain":[0,80],"nice":false},"axis":{"values":[0,10,20,30,40,50,60,70,80],"title":"AQT"}},"color":{"field":"series","type":"nominal","scale":{"domain":["a","r","k","d"],"range":["#727272","#8e1212","#000000","#1c2e9e"]},"legend":{"title":null,"labelExpr":"datum.label === 'a' ? 'Long-term monthly avg. all sites' : datum.label === 'k' ? '2014 monthly avg. per site' : datum.label === 'r' ? 'Long-term monthly avg. per site' : 'Daily predicted AQT'","encode":{"symbols":{"update":{"strokeWidth":{"signal":"datum.value === 'a' ? 5 : datum.value === 'd' ? 1.5 : 2.5"}}}}}}},"layer":[{"transform":[{"filter":"datum.series==='a'"}],"mark":{"type":"line","strokeWidth":5,"clip":true},"encoding":{}},{"transform":[{"filter":"datum.series==='r'"}],"mark":{"type":"line","strokeWidth":2.5,"clip":true},"encoding":{}},{"transform":[{"filter":"datum.series==='k'"}],"mark":{"type":"line","strokeWidth":2.5,"clip":true},"encoding":{}},{"transform":[{"filter":"datum.series==='d'"}],"mark":{"type":"line","strokeWidth":1.3,"clip":true},"encoding":{}}]},
{"transform":[{"filter":"datum.site==='Schiermonnikoog'"}],"title":"Schiermonnikoog","width":107,"height":148,"encoding":{"x":{"field":"m","type":"quantitative","scale":{"domain":[1,12],"nice":false,"zero":false},"axis":{"values":[1,2,3,4,5,6,7,8,9,10,11,12],"title":"Month"}},"y":{"field":"value","type":"quantitative","scale":{"domain":[0,80],"nice":false},"axis":{"values":[0,10,20,30,40,50,60,70,80],"title":"AQT"}},"color":{"field":"series","type":"nominal","scale":{"domain":["a","r","k","d"],"range":["#727272","#8e1212","#000000","#1c2e9e"]},"legend":{"title":null,"labelExpr":"datum.label === 'a' ? 'Long-term monthly avg. all sites' : datum.label === 'k' ? '2014 monthly avg. per site' : datum.label === 'r' ? 'Long-term monthly avg. per site' : 'Daily predicted AQT'","encode":{"symbols":{"update":{"strokeWidth":{"signal":"datum.value === 'a' ? 5 : datum.value === 'd' ? 1.5 : 2.5"}}}}}}},"layer":[{"transform":[{"filter":"datum.series==='a'"}],"mark":{"type":"line","strokeWidth":5,"clip":true},"encoding":{}},{"transform":[{"filter":"datum.series==='r'"}],"mark":{"type":"line","strokeWidth":2.5,"clip":true},"encoding":{}},{"transform":[{"filter":"datum.series==='k'"}],"mark":{"type":"line","strokeWidth":2.5,"clip":true},"encoding":{}},{"transform":[{"filter":"datum.series==='d'"}],"mark":{"type":"line","strokeWidth":1.3,"clip":true},"encoding":{}}]},
{"transform":[{"filter":"datum.site==='Twiske'"}],"title":"Twiske","width":107,"height":148,"encoding":{"x":{"field":"m","type":"quantitative","scale":{"domain":[1,12],"nice":false,"zero":false},"axis":{"values":[1,2,3,4,5,6,7,8,9,10,11,12],"title":"Month"}},"y":{"field":"value","type":"quantitative","scale":{"domain":[0,80],"nice":false},"axis":{"values":[0,10,20,30,40,50,60,70,80],"title":"AQT"}},"color":{"field":"series","type":"nominal","scale":{"domain":["a","r","k","d"],"range":["#727272","#8e1212","#000000","#1c2e9e"]},"legend":{"title":null,"labelExpr":"datum.label === 'a' ? 'Long-term monthly avg. all sites' : datum.label === 'k' ? '2014 monthly avg. per site' : datum.label === 'r' ? 'Long-term monthly avg. per site' : 'Daily predicted AQT'","encode":{"symbols":{"update":{"strokeWidth":{"signal":"datum.value === 'a' ? 5 : datum.value === 'd' ? 1.5 : 2.5"}}}}}}},"layer":[{"transform":[{"filter":"datum.series==='a'"}],"mark":{"type":"line","strokeWidth":5,"clip":true},"encoding":{}},{"transform":[{"filter":"datum.series==='r'"}],"mark":{"type":"line","strokeWidth":2.5,"clip":true},"encoding":{}},{"transform":[{"filter":"datum.series==='k'"}],"mark":{"type":"line","strokeWidth":2.5,"clip":true},"encoding":{}},{"transform":[{"filter":"datum.series==='d'"}],"mark":{"type":"line","strokeWidth":1.3,"clip":true},"encoding":{}}]},
{"transform":[{"filter":"datum.site==='Vaals'"}],"title":"Vaals","width":107,"height":148,"encoding":{"x":{"field":"m","type":"quantitative","scale":{"domain":[1,12],"nice":false,"zero":false},"axis":{"values":[1,2,3,4,5,6,7,8,9,10,11,12],"title":"Month"}},"y":{"field":"value","type":"quantitative","scale":{"domain":[0,80],"nice":false},"axis":{"values":[0,10,20,30,40,50,60,70,80],"title":"AQT"}},"color":{"field":"series","type":"nominal","scale":{"domain":["a","r","k","d"],"range":["#727272","#8e1212","#000000","#1c2e9e"]},"legend":{"title":null,"labelExpr":"datum.label === 'a' ? 'Long-term monthly avg. all sites' : datum.label === 'k' ? '2014 monthly avg. per site' : datum.label === 'r' ? 'Long-term monthly avg. per site' : 'Daily predicted AQT'","encode":{"symbols":{"update":{"strokeWidth":{"signal":"datum.value === 'a' ? 5 : datum.value === 'd' ? 1.5 : 2.5"}}}}}}},"layer":[{"transform":[{"filter":"datum.series==='a'"}],"mark":{"type":"line","strokeWidth":5,"clip":true},"encoding":{}},{"transform":[{"filter":"datum.series==='r'"}],"mark":{"type":"line","strokeWidth":2.5,"clip":true},"encoding":{}},{"transform":[{"filter":"datum.series==='k'"}],"mark":{"type":"line","strokeWidth":2.5,"clip":true},"encoding":{}},{"transform":[{"filter":"datum.series==='d'"}],"mark":{"type":"line","strokeWidth":1.3,"clip":true},"encoding":{}}]},
{"transform":[{"filter":"datum.site==='Veldhoven'"}],"title":"Veldhoven","width":107,"height":148,"encoding":{"x":{"field":"m","type":"quantitative","scale":{"domain":[1,12],"nice":false,"zero":false},"axis":{"values":[1,2,3,4,5,6,7,8,9,10,11,12],"title":"Month"}},"y":{"field":"value","type":"quantitative","scale":{"domain":[0,80],"nice":false},"axis":{"values":[0,10,20,30,40,50,60,70,80],"title":"AQT"}},"color":{"field":"series","type":"nominal","scale":{"domain":["a","r","k","d"],"range":["#727272","#8e1212","#000000","#1c2e9e"]},"legend":{"title":null,"labelExpr":"datum.label === 'a' ? 'Long-term monthly avg. all sites' : datum.label === 'k' ? '2014 monthly avg. per site' : datum.label === 'r' ? 'Long-term monthly avg. per site' : 'Daily predicted AQT'","encode":{"symbols":{"update":{"strokeWidth":{"signal":"datum.value === 'a' ? 5 : datum.value === 'd' ? 1.5 : 2.5"}}}}}}},"layer":[{"transform":[{"filter":"datum.series==='a'"}],"mark":{"type":"line","strokeWidth":5,"clip":true},"encoding":{}},{"transform":[{"filter":"datum.series==='r'"}],"mark":{"type":"line","strokeWidth":2.5,"clip":true},"encoding":{}},{"transform":[{"filter":"datum.series==='k'"}],"mark":{"type":"line","strokeWidth":2.5,"clip":true},"encoding":{}},{"transform":[{"filter":"datum.series==='d'"}],"mark":{"type":"line","strokeWidth":1.3,"clip":true},"encoding":{}}]},
{"transform":[{"filter":"datum.site==='Wassenaar'"}],"title":"Wassenaar","width":107,"height":148,"encoding":{"x":{"field":"m","type":"quantitative","scale":{"domain":[1,12],"nice":false,"zero":false},"axis":{"values":[1,2,3,4,5,6,7,8,9,10,11,12],"title":"Month"}},"y":{"field":"value","type":"quantitative","scale":{"domain":[0,80],"nice":false},"axis":{"values":[0,10,20,30,40,50,60,70,80],"title":"AQT"}},"color":{"field":"series","type":"nominal","scale":{"domain":["a","r","k","d"],"range":["#727272","#8e1212","#000000","#1c2e9e"]},"legend":{"title":null,"labelExpr":"datum.label === 'a' ? 'Long-term monthly avg. all sites' : datum.label === 'k' ? '2014 monthly avg. per site' : datum.label === 'r' ? 'Long-term monthly avg. per site' : 'Daily predicted AQT'","encode":{"symbols":{"update":{"strokeWidth":{"signal":"datum.value === 'a' ? 5 : datum.value === 'd' ? 1.5 : 2.5"}}}}}}},"layer":[{"transform":[{"filter":"datum.series==='a'"}],"mark":{"type":"line","strokeWidth":5,"clip":true},"encoding":{}},{"transform":[{"filter":"datum.series==='r'"}],"mark":{"type":"line","strokeWidth":2.5,"clip":true},"encoding":{}},{"transform":[{"filter":"datum.series==='k'"}],"mark":{"type":"line","strokeWidth":2.5,"clip":true},"encoding":{}},{"transform":[{"filter":"datum.series==='d'"}],"mark":{"type":"line","strokeWidth":1.3,"clip":true},"encoding":{}}]}
],
"config": {
 "font": "Liberation Sans",
 "view": {"stroke": null, "fill": "#EAEAF2"},
 "title": {"font": "Liberation Sans", "fontSize": 15, "fontWeight": "normal", "color": "#111111", "offset": -5.5, "anchor": "middle"},
 "axis": {"domain": false, "ticks": false, "grid": true, "gridColor": "#c2c2ca", "gridWidth": 1, "labelFont": "Liberation Sans", "labelFontSize": 9.5, "labelColor": "#333333", "titleFont": "Liberation Sans", "titleFontSize": 10, "titleFontWeight": "normal", "titleColor": "#222222"},
 "axisX": {"labelOverlap": false, "labelFlush": false, "labelBound": false, "labelPadding": 5, "titlePadding": 1},
 "axisY": {"labelOverlap": false, "labelPadding": 4, "titlePadding": 1},
 "legend": {"orient": "none", "legendX": 160, "legendY": 601, "direction": "vertical", "columns": 2, "symbolType": "stroke", "symbolSize": 900, "labelFont": "Liberation Sans", "labelFontSize": 13, "labelColor": "#111111", "labelOffset": 20, "columnPadding": 22, "rowPadding": 2, "padding": 0, "labelLimit": 400}
}
}
